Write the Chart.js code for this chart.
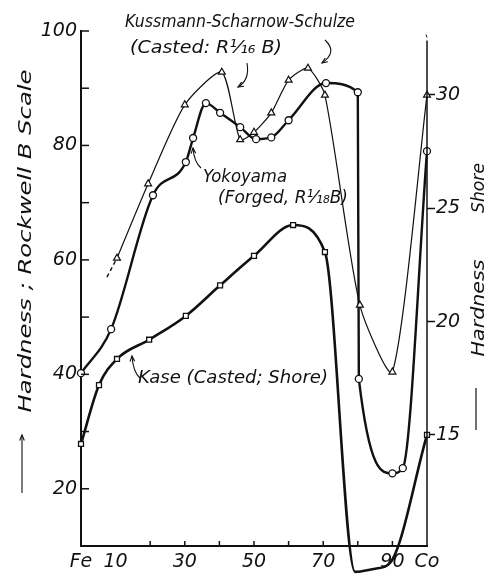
<!DOCTYPE html>
<html>
<head>
<meta charset="utf-8">
<script src="https://cdn.jsdelivr.net/npm/chart.js@4.4.1/dist/chart.umd.min.js"></script>
<style>
  html, body { margin: 0; padding: 0; background: #fff; }
  #wrap { width: 493px; height: 578px; }
</style>
</head>
<body>
<div id="wrap"><canvas id="chart" width="493" height="578"></canvas></div>
<script>
// composition, % Co (Fe = 0, Co = 100)
const kussmannX = [10.4, 19.4, 30, 40.7, 46, 50, 55, 60, 65.6, 70.5, 80.6, 90, 100]
const kussmannRockwell = [60.3, 73.3, 87.1, 92.8, 81, 82.3, 85.7, 91.4, 93.5, 88.8, 52.1, 40.4, 88.8]
// dashed lead-in below the first Kussmann point
const kussmannLeadX = [7.5, 10.4]
const kussmannLeadRockwell = [57, 60.3]

const yokoyamaX = [0, 8.7, 20.8, 30.3, 32.4, 36.1, 40.2, 46, 50.6, 55, 60, 70.8, 80, 80.3, 90, 93, 100]
const yokoyamaRockwell = [40.2, 47.9, 71.3, 77.1, 81.3, 87.4, 85.7, 83.2, 81.1, 81.4, 84.4, 90.9, 89.3, 39.2, 22.7, 23.6, 79]

const kaseX = [0, 5.2, 10.4, 19.7, 30.3, 40.2, 50, 61.3, 70.5, 79.2, 85, 89.3, 100]
const kaseShore = [14.6, 17.2, 18.35, 19.2, 20.25, 21.6, 22.9, 24.26, 23.07, 8.96, 9.1, 9.35, 15]

const xTickValues = [0, 10, 20, 30, 40, 50, 60, 70, 80, 90, 100]
const xTickLabels = { 0: 'Fe', 10: '10', 30: '30', 50: '50', 70: '70', 90: '90', 100: 'Co' }
const rockwellTicks = [10, 20, 30, 40, 50, 60, 70, 80, 90, 100]
const rockwellLabels = [20, 40, 60, 80, 100]
const shoreTicks = [15, 20, 25, 30]

const INK = '#111'
const FONT = '"DejaVu Sans", sans-serif'

function toPoints(xs, ys) {
  return xs.map((x, i) => ({ x, y: ys[i] }))
}

// italic text squeezed/stretched to a given length, like the hand lettering
function fitText(ctx, str, x, y, width, size, rot = 0) {
  ctx.save()
  ctx.translate(x, y)
  ctx.rotate(rot)
  ctx.font = `italic ${size}px ${FONT}`
  const w = ctx.measureText(str).width
  ctx.scale(width / w, 1)
  ctx.textAlign = 'center'
  ctx.textBaseline = 'middle'
  ctx.fillStyle = INK
  ctx.fillText(str, 0, 0)
  ctx.restore()
}

function arrow(ctx, pts, head = 6) {
  ctx.save()
  ctx.strokeStyle = INK
  ctx.lineWidth = 1.1
  ctx.beginPath()
  ctx.moveTo(pts[0][0], pts[0][1])
  if (pts.length === 3) ctx.quadraticCurveTo(pts[1][0], pts[1][1], pts[2][0], pts[2][1])
  else ctx.lineTo(pts[1][0], pts[1][1])
  ctx.stroke()
  const [ex, ey] = pts[pts.length - 1]
  const [px, py] = pts[pts.length - 2]
  const a = Math.atan2(ey - py, ex - px)
  ctx.beginPath()
  ctx.moveTo(ex - head * Math.cos(a - 0.4), ey - head * Math.sin(a - 0.4))
  ctx.lineTo(ex, ey)
  ctx.lineTo(ex - head * Math.cos(a + 0.4), ey - head * Math.sin(a + 0.4))
  ctx.stroke()
  ctx.restore()
}

const axisMarks = {
  id: 'axisMarks',
  afterDraw(chart) {
    const { ctx, chartArea, scales } = chart
    ctx.save()
    ctx.strokeStyle = INK
    ctx.lineWidth = 1.5
    // inward ticks on the Rockwell axis and the composition axis
    rockwellTicks.forEach(v => {
      const y = scales.y.getPixelForValue(v)
      ctx.beginPath()
      ctx.moveTo(chartArea.left, y)
      ctx.lineTo(chartArea.left + 8, y)
      ctx.stroke()
    })
    xTickValues.slice(2, -1).forEach(v => {
      const x = scales.x.getPixelForValue(v)
      ctx.beginPath()
      ctx.moveTo(x, chartArea.bottom)
      ctx.lineTo(x, chartArea.bottom - 5)
      ctx.stroke()
    })
    // Shore axis line, a little shorter than the Rockwell one
    const top = scales.y2.getPixelForValue(32.4)
    ctx.beginPath()
    ctx.moveTo(chartArea.right, top)
    ctx.lineTo(chartArea.right, chartArea.bottom)
    ctx.stroke()
    ctx.lineWidth = 1
    ctx.beginPath()
    ctx.moveTo(chartArea.right - 1, top - 6)
    ctx.lineTo(chartArea.right, top - 3)
    ctx.stroke()
    ctx.restore()
  }
}

const labels = {
  id: 'labels',
  afterDraw(chart) {
    const { ctx } = chart
    fitText(ctx, 'Kussmann-Scharnow-Schulze', 240, 22, 230, 18)
    fitText(ctx, '(Casted: R\u00B9\u2044\u2081\u2086 B)', 206, 48, 152, 18)
    fitText(ctx, 'Yokoyama', 245, 177, 84, 18)
    fitText(ctx, '(Forged, R\u00B9\u2044\u2081\u2088B)', 283, 198, 130, 18)
    fitText(ctx, 'Kase (Casted; Shore)', 233, 378, 190, 18)

    fitText(ctx, 'Hardness ; Rockwell B Scale', 26, 241, 343, 18, -Math.PI / 2)
    fitText(ctx, 'Shore', 479, 188, 50, 18, -Math.PI / 2)
    fitText(ctx, 'Hardness', 479, 308, 97, 18, -Math.PI / 2)

    arrow(ctx, [[22, 493], [22, 435]])
    ctx.save()
    ctx.strokeStyle = INK
    ctx.lineWidth = 1.2
    ctx.beginPath()
    ctx.moveTo(476, 388)
    ctx.lineTo(476, 430)
    ctx.stroke()
    ctx.restore()

    arrow(ctx, [[247, 63], [250, 80], [238, 87]])
    arrow(ctx, [[325, 40], [338, 52], [322, 63]])
    arrow(ctx, [[201, 168], [194, 162], [193, 148]])
    arrow(ctx, [[140, 378], [133, 372], [132, 356]])
  }
}

const common = {
  fill: false,
  borderColor: INK,
  pointBorderColor: INK,
  pointBackgroundColor: '#fff',
  cubicInterpolationMode: 'monotone',
  clip: false,
}

new Chart(document.getElementById('chart'), {
  type: 'line',
  data: {
    datasets: [
      {
        ...common,
        label: 'Kussmann-Scharnow-Schulze',
        data: toPoints(kussmannX, kussmannRockwell),
        yAxisID: 'y',
        cubicInterpolationMode: 'default',
        tension: 0.22,
        borderWidth: 1.2,
        pointStyle: 'triangle',
        pointRadius: 4,
        pointBorderWidth: 1.2,
      },
      {
        ...common,
        label: 'lead',
        data: toPoints(kussmannLeadX, kussmannLeadRockwell),
        yAxisID: 'y',
        borderWidth: 1.4,
        borderDash: [4, 3],
        pointRadius: 0,
      },
      {
        ...common,
        label: 'Yokoyama',
        data: toPoints(yokoyamaX, yokoyamaRockwell),
        yAxisID: 'y',
        borderWidth: 2.4,
        pointStyle: 'circle',
        pointRadius: 3.5,
        pointBorderWidth: 1.3,
      },
      {
        ...common,
        label: 'Kase',
        data: toPoints(kaseX, kaseShore),
        yAxisID: 'y2',
        borderWidth: 2.6,
        pointStyle: 'rect',
        pointRadius: 3.5,
        pointBorderWidth: 1.3,
      },
    ]
  },
  options: {
    responsive: false,
    animation: false,
    devicePixelRatio: 1,
    layout: { padding: { top: 31 } },
    plugins: {
      legend: { display: false },
      tooltip: { enabled: false },
    },
    scales: {
      x: {
        type: 'linear',
        min: 0,
        max: 100,
        afterFit: s => { s.height = 32 },
        afterBuildTicks: s => { s.ticks = xTickValues.map(value => ({ value })) },
        ticks: {
          autoSkip: false,
          maxRotation: 0,
          padding: 5,
          color: INK,
          font: { family: FONT, size: 19, style: 'italic' },
          callback: v => xTickLabels[v] ?? '',
        },
        grid: { display: false, drawTicks: false },
        border: { display: true, color: INK, width: 2 },
      },
      y: {
        position: 'left',
        min: 10,
        max: 100,
        afterFit: s => { s.width = 81 },
        afterBuildTicks: s => { s.ticks = rockwellTicks.map(value => ({ value })) },
        ticks: {
          autoSkip: false,
          padding: 4,
          color: INK,
          font: { family: FONT, size: 19, style: 'italic' },
          callback: v => rockwellLabels.includes(v) ? String(v) : '',
        },
        grid: { display: false, drawTicks: false },
        border: { display: true, color: INK, width: 2 },
      },
      y2: {
        position: 'right',
        min: 10.1,
        max: 32.82,
        afterFit: s => { s.width = 66 },
        afterBuildTicks: s => { s.ticks = shoreTicks.map(value => ({ value })) },
        ticks: {
          autoSkip: false,
          padding: 1,
          color: INK,
          font: { family: FONT, size: 19, style: 'italic' },
        },
        grid: { display: true, drawOnChartArea: false, drawTicks: true, tickLength: 8, tickColor: INK, tickWidth: 1.5 },
        border: { display: false },
      },
    }
  },
  plugins: [axisMarks, labels],
})
</script>
</body>
</html>
